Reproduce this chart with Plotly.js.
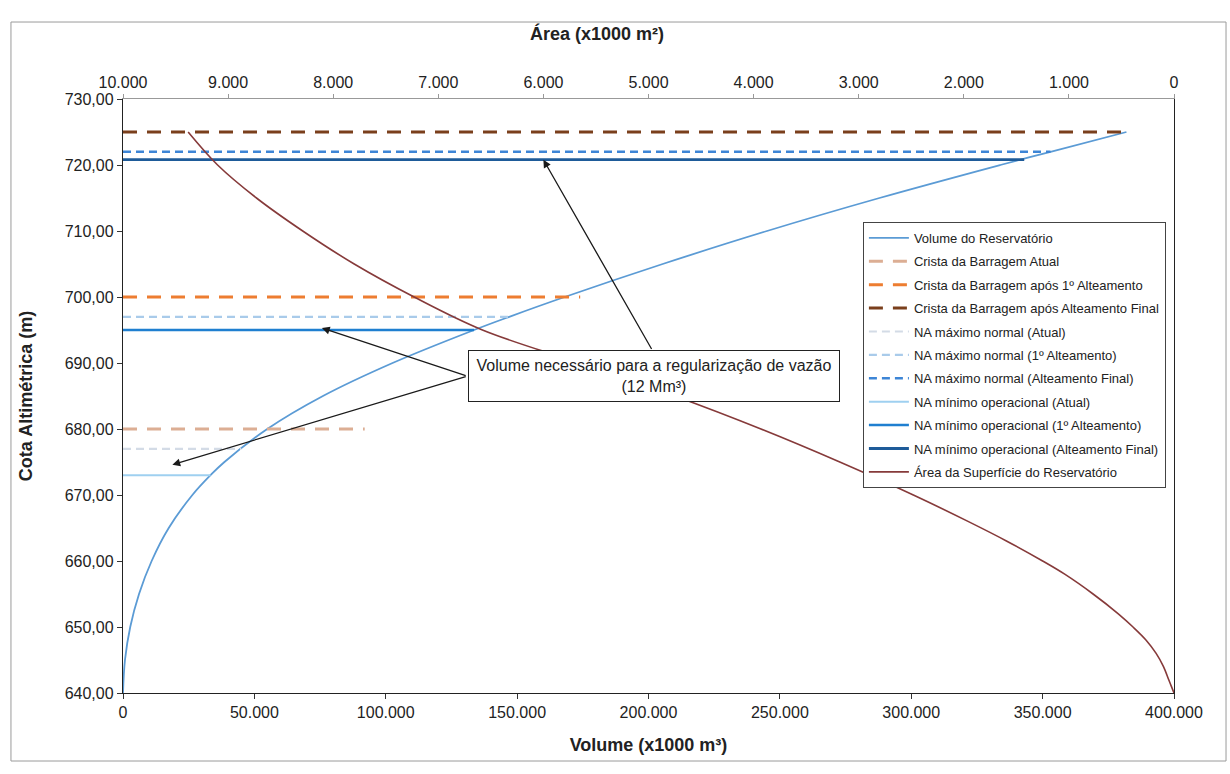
<!DOCTYPE html>
<html>
<head>
<meta charset="utf-8">
<script src="https://cdn.plot.ly/plotly-3.0.1.min.js"></script>
<style>html,body{margin:0;padding:0;background:#fff;}#chart{width:1230px;height:774px;}</style>
</head>
<body>
<div id="chart"></div>
<script>
// ---- Data ----
// Volume curve: elevation (m) vs volume (x1000 m3)
const volElevation = [640,645,650,655,660,665,670,673,675,680,685,690,695,697,700,705,710,715,720,722,725];
const volume = [0,750,2750,6100,10900,17400,26400,33300,38600,54900,76100,102600,133600,147000,168100,205400,245100,287900,333900,353000,381900];

// Surface area curve: elevation (m) vs area (x1000 m2)
const areaElevation = [640,641,642,644,646,648,650,652,655,658,660,663,666,670,675,680,685,690,695,700,705,710,715,720,725];
const area = [0,25,50,100,170,265,390,530,770,1040,1250,1590,1960,2480,3180,3930,4750,5660,6580,7230,7800,8290,8730,9100,9380];

// Reference levels: name, elevation, volume where the drawn line ends
const levelNames = [
  'Crista da Barragem Atual',
  'Crista da Barragem após 1º Alteamento',
  'Crista da Barragem após Alteamento Final',
  'NA máximo normal (Atual)',
  'NA máximo normal (1º Alteamento)',
  'NA máximo normal (Alteamento Final)',
  'NA mínimo operacional (Atual)',
  'NA mínimo operacional (1º Alteamento)',
  'NA mínimo operacional (Alteamento Final)'
];
const levelElevation = [680, 700, 725, 677, 697, 722, 673, 695, 720.8];
const levelVolumeEnd = [92000, 174000, 381900, 45000, 147000, 353000, 33300, 133600, 343000];

// Annotation arrows: head (volume, elevation) and tail (volume, elevation)
const arrowHeadVol = [160000, 75700, 18800];
const arrowHeadElev = [720.8, 695.3, 674.6];
const arrowTailVol = [201500, 131000, 131000];
const arrowTailElev = [691.9, 688, 688];
const noteText = 'Volume necessário para a regularização de vazão<br>(12 Mm³)';
const noteVol = 202000, noteElev = 688;

const volumeTitle = '<b>Volume (x1000 m³)</b>';
const areaTitle = '<b>Área (x1000 m²)</b>';
const elevTitle = '<b>Cota Altimétrica (m)</b>';

// ---- Styles ----
const levelColors = ['#dcae94','#ed7d31','#7a3f1c','#d3dbe6','#a9cbea','#3d85d6','#9fd0f0','#1f7fd0','#1e5b99'];
const levelDash = ['14px,10px','14px,10px','14px,10px','8px,5px','8px,5px','8px,5px','solid','solid','solid'];
const levelWidth = [3,3,3,2.2,2.2,2.5,2,2.5,2.8];

const FONT = 'Liberation Sans, Arial, sans-serif';

const traces = [];
traces.push({
  x: volume, y: volElevation, type: 'scatter', mode: 'lines',
  name: 'Volume do Reservatório', legendgroup: 'g00',
  line: {color: '#5b9bd5', width: 1.8, shape: 'spline', smoothing: 1},
  xaxis: 'x', yaxis: 'y'
});
for (let i = 0; i < levelNames.length; i++) {
  traces.push({
    x: [0, levelVolumeEnd[i]], y: [levelElevation[i], levelElevation[i]],
    type: 'scatter', mode: 'lines', name: levelNames[i], legendgroup: 'g0' + (i + 1),
    line: {color: levelColors[i], width: levelWidth[i], dash: levelDash[i]},
    xaxis: 'x', yaxis: 'y'
  });
}
traces.push({
  x: area, y: areaElevation, type: 'scatter', mode: 'lines',
  name: 'Área da Superfície do Reservatório', legendgroup: 'g10',
  line: {color: '#863a3a', width: 1.6, shape: 'spline', smoothing: 1},
  xaxis: 'x2', yaxis: 'y'
});

const annotations = [];
for (let i = 0; i < arrowHeadVol.length; i++) {
  annotations.push({
    x: arrowHeadVol[i], y: arrowHeadElev[i], xref: 'x', yref: 'y',
    ax: arrowTailVol[i], ay: arrowTailElev[i], axref: 'x', ayref: 'y',
    text: '', showarrow: true, arrowhead: 2, arrowsize: 1.2, arrowwidth: 1.3,
    arrowcolor: '#1a1a1a', standoff: 0, startstandoff: 0
  });
}
annotations.push({
  x: noteVol, y: noteElev, xref: 'x', yref: 'y', text: noteText, showarrow: false,
  font: {family: FONT, size: 16, color: '#222'}, align: 'center',
  bgcolor: '#ffffff', bordercolor: '#222', borderwidth: 1, borderpad: 4,
  width: 362, height: 42
});
annotations.push({
  x: 0.451, y: 1.111, xref: 'paper', yref: 'paper', xanchor: 'center', yanchor: 'middle',
  text: areaTitle, showarrow: false, font: {family: FONT, size: 18, color: '#222'}
});

const layout = {
  width: 1230, height: 774,
  margin: {l: 123, r: 56, t: 99, b: 81, pad: 0},
  paper_bgcolor: '#ffffff', plot_bgcolor: '#ffffff',
  separators: ',.',
  font: {family: FONT, size: 16, color: '#222'},
  showlegend: true,
  legend: {
    x: 0.704, y: 0.793, xanchor: 'left', yanchor: 'top',
    bgcolor: '#ffffff', bordercolor: '#444', borderwidth: 1,
    font: {family: FONT, size: 13, color: '#222'},
    itemwidth: 40, tracegroupgap: 3.5, traceorder: 'grouped'
  },
  xaxis: {
    range: [0, 400000], dtick: 50000, tick0: 0, tickformat: ',.0f',
    showgrid: false, zeroline: false, showline: true, linecolor: '#222', linewidth: 1.2,
    ticks: 'outside', ticklen: 5, tickcolor: '#333',
    tickfont: {family: FONT, size: 16, color: '#222'},
    title: {text: volumeTitle, font: {family: FONT, size: 18, color: '#222'}, standoff: 18},
    automargin: false
  },
  xaxis2: {
    overlaying: 'x', side: 'top', anchor: 'y',
    range: [10000, 0], dtick: 1000, tick0: 0, tickformat: ',.0f',
    showgrid: false, zeroline: false, showline: true, linecolor: '#999', linewidth: 1,
    ticks: 'outside', ticklen: 4, tickcolor: '#999',
    tickfont: {family: FONT, size: 16, color: '#222'},
    automargin: false
  },
  yaxis: {
    range: [640, 730], dtick: 10, tick0: 640, tickformat: '.2f',
    showgrid: false, zeroline: false, showline: true, linecolor: '#222', linewidth: 1.2, mirror: true,
    ticks: 'outside', ticklen: 5, tickcolor: '#333',
    tickfont: {family: FONT, size: 16, color: '#222'},
    title: {text: elevTitle, font: {family: FONT, size: 18, color: '#222'}, standoff: 27},
    automargin: false
  },
  shapes: [{
    type: 'rect', xref: 'paper', yref: 'paper',
    x0: -0.1066, x1: 1.0495, y0: -0.1145, y1: 1.1296,
    line: {color: '#9a9a9a', width: 1}, fillcolor: 'rgba(0,0,0,0)', layer: 'below'
  }],
  annotations: annotations
};

Plotly.newPlot('chart', traces, layout, {displayModeBar: false, staticPlot: true});
</script>
</body>
</html>
